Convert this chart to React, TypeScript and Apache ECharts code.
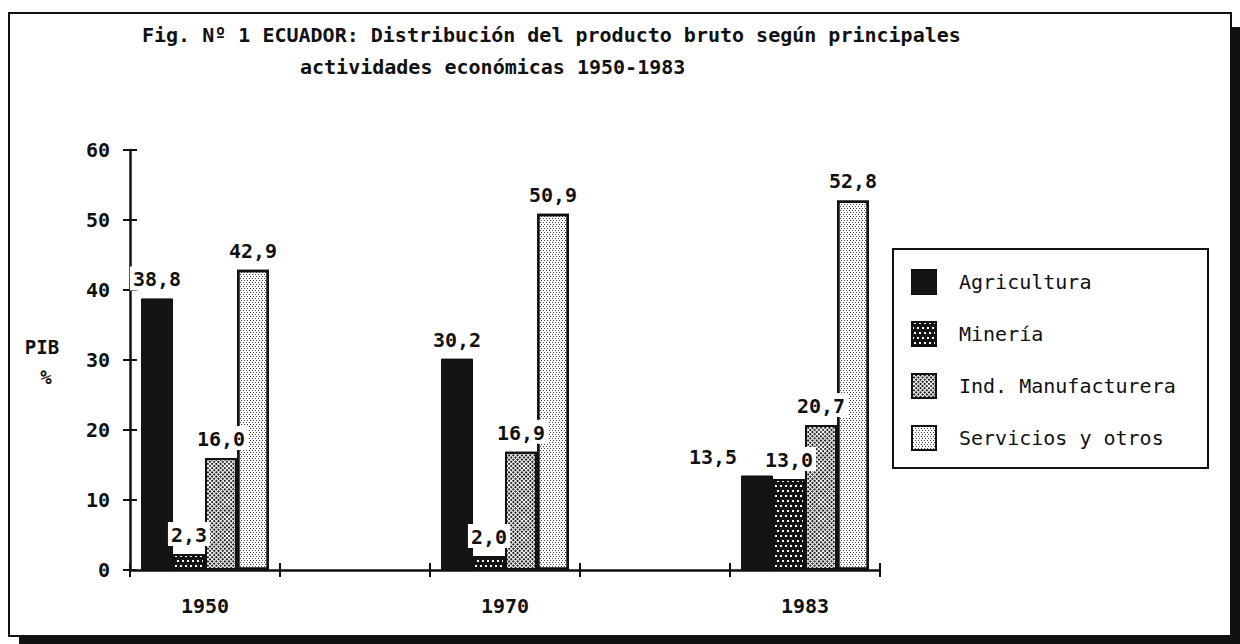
import React, { useEffect, useRef } from "react";
import * as echarts from "echarts";

const years = ["1950", "1970", "1983"];
const agricultura = [38.8, 30.2, 13.5];
const mineria = [2.3, 2.0, 13.0];
const manufacturera = [16.0, 16.9, 20.7];
const servicios = [42.9, 50.9, 52.8];
const seriesNames = ["Agricultura", "Minería", "Ind. Manufacturera", "Servicios y otros"];
const yTicks = [0, 10, 20, 30, 40, 50, 60];
const titleLine1 = "Fig. Nº 1 ECUADOR: Distribución del producto bruto según principales";
const titleLine2 = "actividades económicas 1950-1983";

const MONO = "'DejaVu Sans Mono', monospace";

// categories with empty spacer bands between the years
const categories: string[] = [];
years.forEach((y, i) => {
  categories.push(y);
  if (i < years.length - 1) categories.push("");
});

function spread(vals: number[], offsets?: Record<number, number[]>) {
  const out: any[] = [];
  vals.forEach((v, i) => {
    const item: any = { value: v };
    if (offsets && offsets[i]) item.label = { offset: offsets[i] };
    out.push(item);
    if (i < vals.length - 1) out.push("-");
  });
  return out;
}

const fmt = (p: any) => Number(p.value).toFixed(1).replace(".", ",");

export default function App() {
  const ref = useRef<HTMLDivElement>(null);
  useEffect(() => {
    if (!ref.current) return;
    const chart = echarts.init(ref.current, null, { renderer: "svg" });
    const label = {
      show: true,
      position: "top",
      distance: 8,
      formatter: fmt,
      fontFamily: MONO,
      fontWeight: "bold",
      fontSize: 20,
      color: "#111",
      backgroundColor: "#fff",
      padding: [3, 3, 1, 3],
    };
    const base = { type: "bar", barWidth: 32, barGap: "0%", label };
    const option: any = {
      animation: false,
      backgroundColor: "#fff",
      title: [
        {
          text: titleLine1,
          left: 142,
          top: 25,
          padding: 0,
          textStyle: { fontFamily: MONO, fontWeight: "bold", fontSize: 20, color: "#111" },
        },
        {
          text: titleLine2,
          left: 300,
          top: 57,
          padding: 0,
          textStyle: { fontFamily: MONO, fontWeight: "bold", fontSize: 20, color: "#111" },
        },
      ],
      graphic: [
        { type: "rect", z: -20, shape: { x: 19, y: 27, width: 1221, height: 617 }, style: { fill: "#111" } },
        { type: "rect", z: -19, shape: { x: 9, y: 13, width: 1222, height: 623 }, style: { fill: "#fff", stroke: "#111", lineWidth: 2 } },
        { type: "rect", z: -18, shape: { x: 893, y: 249, width: 315, height: 219 }, style: { fill: "#fff", stroke: "#111", lineWidth: 2 } },
        { type: "text", x: 42, y: 347, style: { text: "PIB", font: `bold 19px ${MONO}`, fill: "#111", align: "center", verticalAlign: "middle" } },
        { type: "text", x: 46, y: 377, style: { text: "%", font: `bold 19px ${MONO}`, fill: "#111", align: "center", verticalAlign: "middle" } },
      ],
      legend: {
        orient: "vertical",
        left: 911,
        top: 269,
        padding: 0,
        icon: "rect",
        itemWidth: 24,
        itemHeight: 24,
        itemGap: 26,
        data: seriesNames,
        textStyle: { fontFamily: MONO, fontSize: 20, color: "#111", padding: [0, 0, 0, 18] },
      },
      grid: { left: 130, right: 360, top: 150, bottom: 74 },
      xAxis: [
        {
          type: "category",
          data: categories,
          position: "bottom",
          axisLine: { lineStyle: { color: "#111", width: 2.5 } },
          axisTick: { show: true, length: 7, interval: 0, lineStyle: { color: "#111", width: 2 } },
          axisLabel: { margin: 26, interval: 0, fontFamily: MONO, fontWeight: "bold", fontSize: 20, color: "#111" },
        },
        {
          type: "category",
          data: categories,
          position: "bottom",
          axisLine: { show: false },
          axisTick: { show: true, inside: true, length: 7, interval: 0, lineStyle: { color: "#111", width: 2 } },
          axisLabel: { show: false },
        },
      ],
      yAxis: [
        {
          type: "value",
          min: yTicks[0],
          max: yTicks[yTicks.length - 1],
          interval: 10,
          position: "left",
          splitLine: { show: false },
          axisLine: { show: true, lineStyle: { color: "#111", width: 2.5 } },
          axisTick: { show: true, length: 7, lineStyle: { color: "#111", width: 2 } },
          axisLabel: { margin: 20, fontFamily: MONO, fontWeight: "bold", fontSize: 20, color: "#111" },
        },
        {
          type: "value",
          min: yTicks[0],
          max: yTicks[yTicks.length - 1],
          interval: 10,
          position: "left",
          splitLine: { show: false },
          axisLine: { show: false },
          axisTick: { show: true, inside: true, length: 7, lineStyle: { color: "#111", width: 2 } },
          axisLabel: { show: false },
        },
      ],
      series: [
        {
          ...base,
          name: seriesNames[0],
          data: spread(agricultura, { 2: [-44, 0] }),
          itemStyle: { color: "#141414", borderColor: "#111", borderWidth: 1 },
        },
        {
          ...base,
          name: seriesNames[1],
          data: spread(mineria),
          itemStyle: {
            color: "#141414",
            borderColor: "#111",
            borderWidth: 2,
            decal: { symbol: "rect", color: "#ffffff", symbolSize: 1, dashArrayX: [[2, 3], [0, 2, 2, 1]], dashArrayY: [2, 3], rotation: 0 },
          },
        },
        {
          ...base,
          name: seriesNames[2],
          data: spread(manufacturera),
          itemStyle: {
            color: "#ffffff",
            borderColor: "#111",
            borderWidth: 2,
            decal: { symbol: "rect", color: "#222", symbolSize: 1, dashArrayX: [2, 1], dashArrayY: [2, 1], rotation: Math.PI / 4 },
          },
        },
        {
          ...base,
          name: seriesNames[3],
          data: spread(servicios),
          itemStyle: {
            color: "#ffffff",
            borderColor: "#111",
            borderWidth: 2.5,
            decal: { symbol: "rect", color: "#444", symbolSize: 1, dashArrayX: [[1, 2], [0, 1, 1, 1]], dashArrayY: [1, 1], rotation: 0 },
          },
        },
      ],
    };
    chart.setOption(option);
    return () => chart.dispose();
  }, []);
  return (
    <div
      ref={ref}
      style={{ position: "absolute", left: 0, top: 0, width: 1240, height: 644 }}
    />
  );
}
